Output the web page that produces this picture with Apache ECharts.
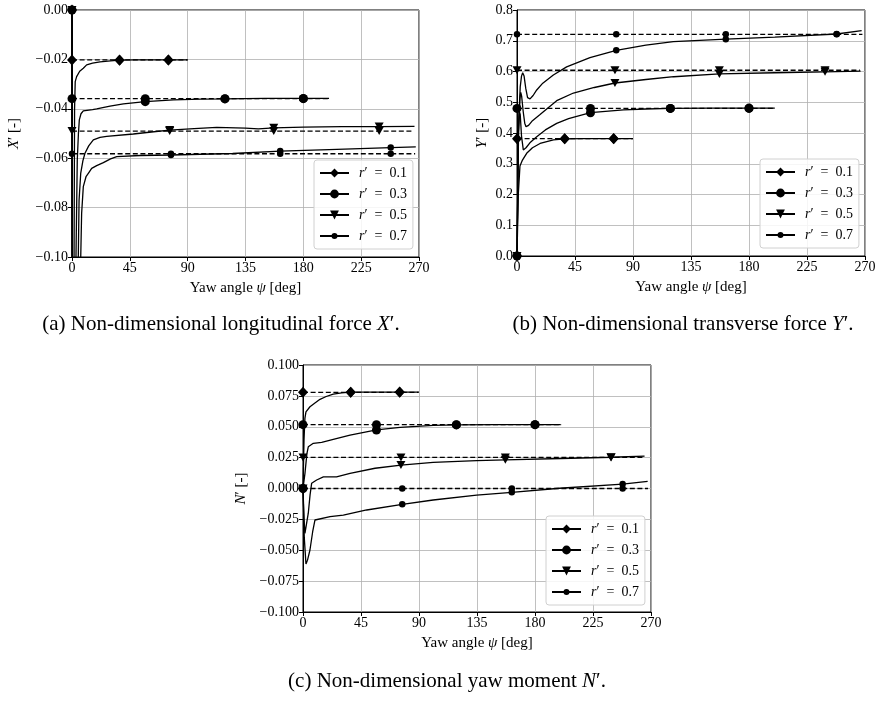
<!DOCTYPE html>
<html>
<head>
<meta charset="utf-8">
<script src="https://cdn.jsdelivr.net/npm/echarts@6/dist/echarts.min.js"></script>
<style>
html,body{margin:0;padding:0;background:#fff;}
#chart{width:879px;height:701px;}
</style>
</head>
<body>
<div id="chart"></div>
<script>
const FONT = 'Liberation Serif';

// Yaw-angle axis
const psiMin = 0, psiMax = 270, psiStep = 45;

// Legend entries, one per non-dimensional yaw rate
const rLabels = ['r′ = 0.1', 'r′ = 0.3', 'r′ = 0.5', 'r′ = 0.7'];

// Yaw angles [deg] at which markers are placed for each yaw rate
const markerPsi = [
  [0, 37, 75],
  [0, 57, 119, 180],
  [0, 76, 157, 239],
  [0, 77, 162, 248]
];

// ---- (a) longitudinal force X′ ----
const xSteady = [-0.0202, -0.0359, -0.0490, -0.0582];
const xSteadyEnd = [90, 200, 266, 267];
const xTurn01 = [[0,0],[0.5,-0.25],[1.4,-0.16],[1.6,-0.10],[2.0,-0.040],[2.5,-0.029],[3.6,-0.027],[6,-0.0248],[8.8,-0.0236],[11.4,-0.0222],[16,-0.0215],[21.8,-0.0210],[30,-0.0206],[37,-0.0203],[50,-0.0202],[75,-0.0202],[90,-0.0202]];
const xTurn03 = [[0,0],[0.5,-0.25],[2.8,-0.16],[3.1,-0.10],[4.1,-0.0607],[5.0,-0.050],[5.7,-0.0445],[7,-0.0420],[8.8,-0.0408],[10,-0.0405],[16,-0.0403],[19.2,-0.0400],[29.6,-0.0389],[40,-0.0380],[57,-0.0371],[79,-0.0364],[100,-0.0361],[119,-0.0360],[150,-0.0358],[180,-0.0358],[200,-0.0358]];
const xTurn05 = [[0,0],[0.5,-0.25],[4.6,-0.16],[4.9,-0.10],[5.5,-0.077],[6.8,-0.066],[8.5,-0.061],[10.1,-0.058],[13,-0.055],[16.6,-0.0526],[21.8,-0.0516],[27,-0.0512],[47.7,-0.0502],[60,-0.0495],[76,-0.0486],[95,-0.0480],[112.6,-0.0475],[135,-0.0478],[145,-0.0481],[157,-0.0477],[180,-0.0474],[210,-0.0472],[239,-0.0472],[266.5,-0.0471]];
const xTurn07 = [[0,0],[0.5,-0.25],[6.5,-0.16],[6.8,-0.10],[7.5,-0.0823],[8.8,-0.0715],[10.9,-0.0675],[12.7,-0.0661],[15.3,-0.0641],[19.2,-0.0630],[24.4,-0.0618],[30,-0.0603],[34.8,-0.0594],[52.9,-0.0589],[77,-0.0587],[100,-0.0584],[125,-0.0581],[162,-0.0571],[200,-0.0565],[248,-0.0557],[267.5,-0.0554]];

// ---- (b) transverse force Y′ ----
const ySteady = [0.3815, 0.480, 0.604, 0.721];
const ySteadyEnd = [90, 200, 266, 268];
const yTurn01 = [[0,0],[1.0,0.20],[2.3,0.293],[4,0.310],[7.5,0.334],[12,0.352],[17.9,0.366],[28.3,0.3775],[37,0.381],[50,0.382],[75,0.382],[90,0.382]];
const yTurn03 = [[0,0],[1.0,0.40],[1.8,0.47],[2.5,0.46],[3.5,0.39],[4.9,0.345],[7,0.352],[10,0.368],[15.3,0.388],[22,0.410],[30.8,0.4315],[40,0.447],[57,0.466],[82.6,0.475],[100,0.478],[119,0.480],[150,0.481],[180,0.481],[200,0.481]];
const yTurn05 = [[0,0],[1.2,0.40],[2.2,0.51],[2.9,0.532],[3.6,0.52],[4.8,0.47],[6,0.432],[7,0.4205],[9,0.425],[12,0.440],[17.9,0.460],[30.8,0.505],[43.8,0.530],[60,0.548],[76,0.5626],[100,0.574],[121.6,0.583],[157,0.592],[200,0.596],[239,0.599],[266.6,0.601]];
const yTurn07 = [[0,0],[1.2,0.42],[2.5,0.55],[3.5,0.585],[4.4,0.596],[5.5,0.585],[6.8,0.545],[8.2,0.515],[10.1,0.511],[12.5,0.522],[15.3,0.540],[20,0.562],[28.2,0.5886],[38.5,0.615],[56.6,0.645],[77,0.669],[100,0.686],[121.3,0.697],[162,0.705],[200,0.712],[248,0.722],[267.4,0.733]];

// ---- (c) yaw moment N′ ----
const nSteady = [0.0779, 0.0517, 0.0252, 0.0000];
const nSteadyEnd = [89.5, 200.6, 265, 267.7];
const nTurn01 = [[0,0],[0.8,0.040],[1.5,0.057],[2.3,0.062],[5.4,0.0662],[9,0.0690],[13.2,0.0722],[18,0.0745],[23.5,0.0765],[30,0.0775],[37,0.0780],[60,0.0781],[75,0.0781],[90,0.0781]];
const nTurn03 = [[0,0],[1.5,0.012],[3,0.028],[4.1,0.0338],[8,0.0366],[14.5,0.0374],[23.5,0.0398],[36.5,0.0433],[57,0.0474],[75.3,0.0495],[101,0.0511],[119,0.0515],[150,0.0517],[180,0.0517],[200,0.0517]];
const nTurn05 = [[0,0],[0.8,-0.025],[1.5,-0.0363],[2.5,-0.030],[4.1,-0.020],[5.5,-0.005],[6.7,0.0042],[10.6,0.0069],[15.8,0.0094],[26,0.0094],[36.5,0.0123],[55.9,0.0164],[76,0.0190],[101,0.0212],[134.7,0.0225],[157,0.0232],[200,0.0243],[239,0.0253],[265,0.0262]];
const nTurn07 = [[0,0],[1,-0.040],[2.3,-0.0611],[3.5,-0.058],[5.4,-0.0498],[7.5,-0.035],[9.3,-0.0255],[10.6,-0.0241],[21,-0.0228],[31.3,-0.0215],[49.4,-0.0174],[77,-0.0128],[101,-0.0093],[134.7,-0.0053],[162,-0.0031],[199,0.0002],[248,0.0036],[267.4,0.0058]];

// Marker shape per yaw rate: diamond, circle, down triangle, small dot.
// `legend` is the series-level symbol, used by the legend icon only.
const TRI_DOWN = 'path://M0,0L2,0L1,1.6Z';
const SMALL_DOT = 'path://M0,0L0.001,0M10,10L10.001,10M5,1.6A3.4,3.4 0 1,1 5,8.4A3.4,3.4 0 1,1 5,1.6Z';
const markerStyle = [
  { symbol: 'diamond', size: [10, 11], legend: 'diamond' },
  { symbol: 'circle', size: 9, legend: 'circle' },
  { symbol: TRI_DOWN, size: [9, 8], legend: TRI_DOWN },
  { symbol: 'circle', size: 6.5, legend: SMALL_DOT }
];

function fmtMinus(digits) {
  return v => {
    if (Math.abs(v) < 1e-9) v = 0;
    return v.toFixed(digits).replace('-', '−');
  };
}

function withMarkers(points, marks, mk) {
  return points.map(p => marks.indexOf(p[0]) >= 0
    ? { value: p, symbol: mk.symbol, symbolSize: mk.size }
    : { value: p, symbol: 'none' });
}

function panelSeries(idx, turns, levels, ends) {
  const out = [];
  for (let i = 0; i < 4; i++) {
    const mk = markerStyle[i];
    const steadyPts = [[0, levels[i]]].concat(markerPsi[i].slice(1).map(p => [p, levels[i]]), [[ends[i], levels[i]]]);
    out.push({
      type: 'line', name: rLabels[i] + ' steady', xAxisIndex: idx, yAxisIndex: idx,
      data: withMarkers(steadyPts, markerPsi[i], mk),
      symbol: mk.legend, symbolSize: mk.size, showAllSymbol: true,
      lineStyle: { color: '#000', width: 1.3, type: [5, 2.6] },
      itemStyle: { color: '#000' }, animation: false, z: 3
    });
    out.push({
      type: 'line', name: rLabels[i], xAxisIndex: idx, yAxisIndex: idx,
      data: withMarkers(turns[i], markerPsi[i], mk),
      symbol: mk.legend, symbolSize: mk.size, showAllSymbol: true,
      lineStyle: { color: '#000', width: 1.3 },
      itemStyle: { color: '#000' }, animation: false, z: 4
    });
  }
  return out;
}

const grids = [
  { left: 72, top: 10, width: 347, height: 247 },
  { left: 517, top: 10, width: 348, height: 246 },
  { left: 303, top: 365, width: 348, height: 247 }
];

const TICK = 14, NAME = 15;
const rich = { i: { fontStyle: 'italic', fontFamily: FONT, fontSize: NAME, color: '#000' } };

function xAxisDef(idx) {
  return {
    type: 'value', gridIndex: idx, min: psiMin, max: psiMax, interval: psiStep,
    name: 'Yaw angle {i|ψ} [deg]', nameLocation: 'middle', nameGap: 24,
    nameTextStyle: { fontFamily: FONT, fontSize: NAME, color: '#000', rich: rich },
    axisLine: { show: true, onZero: false, lineStyle: { color: '#000', width: 1 } },
    axisTick: { show: true, length: 4, lineStyle: { color: '#000' } },
    axisLabel: { fontFamily: FONT, fontSize: TICK, color: '#000', margin: 4 },
    splitLine: { show: true, lineStyle: { color: '#b0b0b0', width: 0.8 } }
  };
}

function yAxisDef(idx, min, max, step, digits, name, gap) {
  return {
    type: 'value', gridIndex: idx, min: min, max: max, interval: step,
    name: name, nameLocation: 'middle', nameGap: gap, nameRotate: 90,
    nameTextStyle: { fontFamily: FONT, fontSize: NAME, color: '#000', rich: rich },
    axisLine: { show: true, onZero: false, lineStyle: { color: '#000', width: 1 } },
    axisTick: { show: true, length: 4, lineStyle: { color: '#000' } },
    axisLabel: { fontFamily: FONT, fontSize: TICK, color: '#000', margin: 4, formatter: fmtMinus(digits) },
    splitLine: { show: true, lineStyle: { color: '#b0b0b0', width: 0.8 } }
  };
}

function legendDef(left, top) {
  return {
    data: rLabels, left: left, top: top, orient: 'vertical',
    itemWidth: 29, itemHeight: 11, itemGap: 7,
    padding: [6, 6, 6, 5],
    backgroundColor: 'rgba(255,255,255,0.85)', borderColor: '#d0d0d0', borderWidth: 1, borderRadius: 3,
    selectedMode: false,
    textStyle: {
      fontFamily: FONT, fontSize: 14, color: '#000',
      rich: { g: { width: 5 }, i: { fontStyle: 'italic', fontFamily: FONT, fontSize: 14 } }
    },
    formatter: n => '{g|}' + n.replace(/^r/, '{i|r}').replace(' = ', '  =  ')
  };
}

const CAP = 21;
const captionRich = { i: { fontStyle: 'italic', fontFamily: FONT, fontSize: CAP, fill: '#000' } };
function caption(x, y, text) {
  return {
    type: 'text', x: x, y: y,
    style: { text: text, fontFamily: FONT, fontSize: CAP, fill: '#000', align: 'center', verticalAlign: 'middle', rich: captionRich }
  };
}

const chart = echarts.init(document.getElementById('chart'), null, { renderer: 'canvas' });
chart.setOption({
  backgroundColor: '#fff',
  animation: false,
  grid: grids.map(g => Object.assign({ show: true, borderColor: '#000', borderWidth: 1, backgroundColor: 'transparent' }, g)),
  xAxis: [xAxisDef(0), xAxisDef(1), xAxisDef(2)],
  yAxis: [
    yAxisDef(0, -0.1, 0, 0.02, 2, '{i|X}′ [-]', 50),
    yAxisDef(1, 0, 0.8, 0.1, 1, '{i|Y}′ [-]', 27),
    yAxisDef(2, -0.1, 0.1, 0.025, 3, '{i|N}′ [-]', 54)
  ],
  legend: [legendDef(314, 160), legendDef(760, 159), legendDef(546, 516)],
  series: [].concat(
    panelSeries(0, [xTurn01, xTurn03, xTurn05, xTurn07], xSteady, xSteadyEnd),
    panelSeries(1, [yTurn01, yTurn03, yTurn05, yTurn07], ySteady, ySteadyEnd),
    panelSeries(2, [nTurn01, nTurn03, nTurn05, nTurn07], nSteady, nSteadyEnd)
  ),
  graphic: [
    caption(221, 324, '(a) Non-dimensional longitudinal force {i|X}′.'),
    caption(683, 324, '(b) Non-dimensional transverse force {i|Y}′.'),
    caption(447, 681, '(c) Non-dimensional yaw moment {i|N}′.')
  ]
});
</script>
</body>
</html>
